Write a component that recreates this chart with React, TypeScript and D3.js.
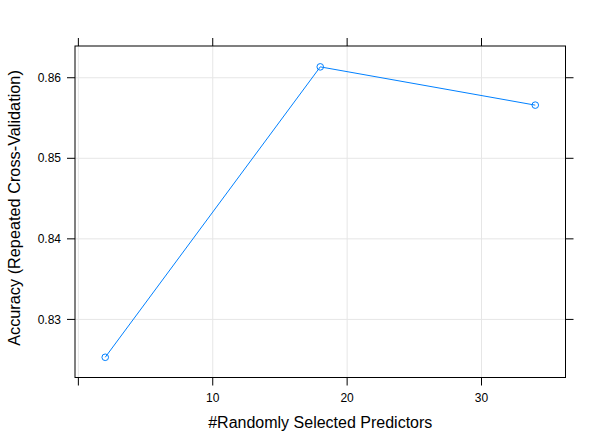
import React from "react";
import * as d3 from "d3";

const mtry = [2, 18, 34];
const accuracy = [0.8253, 0.86135, 0.8566];
const xTicks = [0, 10, 20, 30];
const xTickLabels = ["", "10", "20", "30"];
const yTicks = [0.83, 0.84, 0.85, 0.86];
const yTickLabels = ["0.83", "0.84", "0.85", "0.86"];

const W = 604;
const H = 445;
const left = 75;
const right = 565.5;
const top = 46;
const bottom = 377.5;

export default function App() {
  const x = d3.scaleLinear().domain([-0.25, 36.25]).range([left, right]);
  const y = d3.scaleLinear().domain([0.82279, 0.86394]).range([bottom, top]);
  const line = d3
    .line<number>()
    .x((_, i) => x(mtry[i]))
    .y((d) => y(d));
  const font = "Liberation Sans, Arial, Helvetica, sans-serif";
  return (
    <svg
      width={W}
      height={H}
      style={{ position: "absolute", left: 0, top: 0, background: "#fff" }}
      fontFamily={font}
    >
      {/* grid */}
      {xTicks.map((t) => (
        <line key={"gx" + t} x1={x(t)} x2={x(t)} y1={top} y2={bottom} stroke="#e6e6e6" strokeWidth={1} />
      ))}
      {yTicks.map((t) => (
        <line key={"gy" + t} x1={left} x2={right} y1={y(t)} y2={y(t)} stroke="#e6e6e6" strokeWidth={1} />
      ))}
      {/* data */}
      <path d={line(accuracy) || ""} fill="none" stroke="#0080ff" strokeWidth={1} />
      {accuracy.map((v, i) => (
        <circle key={"p" + i} cx={x(mtry[i])} cy={y(v)} r={3.3} fill="none" stroke="#0080ff" strokeWidth={1} />
      ))}
      {/* panel border */}
      <rect x={left} y={top} width={right - left} height={bottom - top} fill="none" stroke="#000" strokeWidth={1} />
      {/* ticks */}
      {xTicks.map((t, i) => (
        <g key={"tx" + t}>
          <line x1={x(t)} x2={x(t)} y1={bottom} y2={bottom + 8} stroke="#000" />
          <line x1={x(t)} x2={x(t)} y1={top} y2={top - 8} stroke="#000" />
          <text x={x(t)} y={bottom + 24} textAnchor="middle" fontSize={12}>
            {xTickLabels[i]}
          </text>
        </g>
      ))}
      {yTicks.map((t, i) => (
        <g key={"ty" + t}>
          <line x1={left} x2={left - 8} y1={y(t)} y2={y(t)} stroke="#000" />
          <line x1={right} x2={right + 8} y1={y(t)} y2={y(t)} stroke="#000" />
          <text x={left - 14} y={y(t)} dy="0.35em" textAnchor="end" fontSize={12}>
            {yTickLabels[i]}
          </text>
        </g>
      ))}
      {/* axis titles */}
      <text x={(left + right) / 2} y={428} textAnchor="middle" fontSize={16}>
        #Randomly Selected Predictors
      </text>
      <text
        transform={`translate(19.5,208) rotate(-90)`}
        textAnchor="middle"
        fontSize={16.3}
      >
        Accuracy (Repeated Cross-Validation)
      </text>
    </svg>
  );
}
